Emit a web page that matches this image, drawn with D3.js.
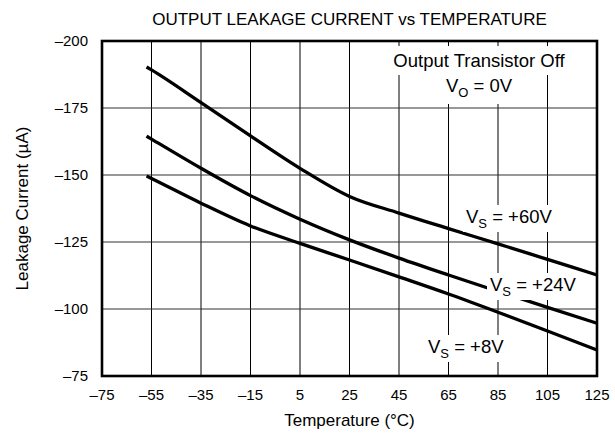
<!DOCTYPE html>
<html><head><meta charset="utf-8">
<script src="https://cdn.jsdelivr.net/npm/d3@7"></script>
<style>
html,body{margin:0;padding:0;background:#fff;}
text{font-family:"Liberation Sans",Arial,sans-serif;fill:#000;}
</style></head>
<body><svg id="chart" width="615" height="442"></svg>
<script>
// ---- data ----
const temps = [-57, -55, -35, -15, 5, 25, 45, 65, 85, 105, 125];
const vs60 = [-190.3, -189.2, -177, -164.6, -152.5, -142, -135.8, -130, -124.3, -118.5, -112.7];
const vs24 = [-164.5, -163.4, -152.5, -142.3, -133.5, -125.8, -119, -112.7, -106.6, -100.6, -94.7];
const vs8  = [-149.6, -148.7, -139.5, -131, -124.5, -118.3, -112, -105.6, -98.8, -91.8, -84.7];
const xTicks = [-75, -55, -35, -15, 5, 25, 45, 65, 85, 105, 125];
const yTicks = [-200, -175, -150, -125, -100, -75];
const seriesNames = ["+60V", "+24V", "+8V"];
const titleText = "OUTPUT LEAKAGE CURRENT vs TEMPERATURE";
const xLabel = "Temperature (\u00B0C)";
const yLabel = "Leakage Current (\u00B5A)";

const m = {left: 102, right: 18, top: 41, bottom: 66};
const W = 615, H = 442;
const FS = 17, AFS = 18.5, TFS = 15;
const svg = d3.select("#chart");
const x = d3.scaleLinear().domain([-75, 125]).range([m.left, W - m.right]);
const y = d3.scaleLinear().domain([-200, -75]).range([m.top, H - m.bottom]);
const fmt = v => (v < 0 ? "\u2013" + Math.abs(v) : String(v));

// grid
const g = svg.append("g");
g.selectAll("line.vx").data(xTicks.slice(1, -1)).join("line")
  .attr("x1", d => x(d)).attr("x2", d => x(d))
  .attr("y1", m.top).attr("y2", H - m.bottom)
  .attr("stroke", "#000").attr("stroke-width", 1);
g.selectAll("line.hy").data(yTicks.slice(1, -1)).join("line")
  .attr("y1", d => y(d)).attr("y2", d => y(d))
  .attr("x1", m.left).attr("x2", W - m.right)
  .attr("stroke", "#333").attr("stroke-width", 1.2);

// curves
const line = d3.line().x(d => x(d[0])).y(d => y(d[1])).curve(d3.curveMonotoneX);
[vs60, vs24, vs8].forEach(s => {
  svg.append("path").datum(temps.map((t, i) => [t, s[i]]))
    .attr("d", line).attr("fill", "none").attr("stroke", "#000")
    .attr("stroke-width", 3.3).attr("stroke-linecap", "butt");
});

// labels with white background
function label(xp, yp, name, sub, rest, anchor) {
  const t = svg.append("text").attr("x", xp).attr("y", yp)
    .attr("font-size", AFS).attr("text-anchor", anchor || "start");
  t.append("tspan").text(name);
  t.append("tspan").attr("font-size", 13).attr("dy", 5).text(sub);
  t.append("tspan").attr("dy", -5).text(rest);
  return t;
}
function bg(t, px, py) {
  const b = t.node().getBBox();
  svg.insert("rect", () => t.node())
    .attr("x", b.x - px).attr("y", b.y - py)
    .attr("width", b.width + 2 * px).attr("height", b.height + 2 * py)
    .attr("fill", "#fff");
}
const t1 = svg.append("text").attr("x", 479).attr("y", 67)
  .attr("font-size", AFS).attr("text-anchor", "middle").text("Output Transistor Off");
const t2 = label(479, 92, "V", "O", " = 0V", "middle");
bg(t1, 5, 4); bg(t2, 5, 4);
const l60 = label(466, 223, "V", "S", " = " + seriesNames[0]);
const l24 = label(490, 291, "V", "S", " = " + seriesNames[1]);
const l8 = label(428, 353, "V", "S", " = " + seriesNames[2]);
[l60, l24, l8].forEach(t => bg(t, 3, 1));

// frame
svg.append("rect").attr("x", m.left).attr("y", m.top)
  .attr("width", W - m.left - m.right).attr("height", H - m.top - m.bottom)
  .attr("fill", "none").attr("stroke", "#000").attr("stroke-width", 2.6);

// tick labels
svg.selectAll("text.xt").data(xTicks).join("text")
  .attr("x", d => x(d)).attr("y", 400).attr("text-anchor", "middle")
  .attr("font-size", TFS).text(fmt);
svg.selectAll("text.yt").data(yTicks).join("text")
  .attr("x", 88).attr("y", d => y(d)).attr("dy", "0.36em").attr("text-anchor", "end")
  .attr("font-size", TFS).text(fmt);

// titles
svg.append("text").attr("x", (m.left + W - m.right) / 2).attr("y", 25)
  .attr("text-anchor", "middle").attr("font-size", FS).text(titleText);
svg.append("text").attr("x", (m.left + W - m.right) / 2).attr("y", 426)
  .attr("text-anchor", "middle").attr("font-size", FS).text(xLabel);
svg.append("text").attr("transform", `translate(28,${(m.top + H - m.bottom) / 2}) rotate(-90)`)
  .attr("text-anchor", "middle").attr("font-size", FS).text(yLabel);
</script></body></html>
